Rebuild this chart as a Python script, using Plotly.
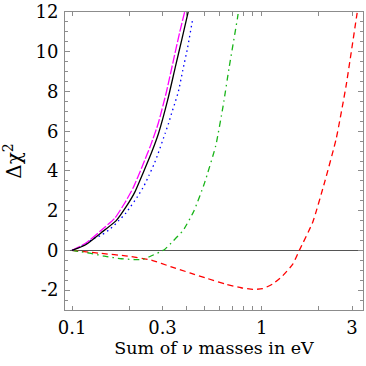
import numpy as np
import plotly.graph_objects as go

# curves (sum of neutrino masses in eV, delta chi^2)
black_x = [0.1, 0.1186, 0.142, 0.171, 0.193, 0.214, 0.237, 0.262, 0.286, 0.32, 0.35, 0.38, 0.412]
black_y = [0.0, 0.3, 0.88, 1.5, 2.2, 2.92, 3.9, 4.9, 5.9, 7.6, 9.2, 10.65, 12.1]

magenta_x = [0.1, 0.118, 0.14, 0.168, 0.19, 0.21, 0.235, 0.26, 0.285, 0.315, 0.345, 0.37, 0.395]
magenta_y = [0.0, 0.36, 0.95, 1.62, 2.4, 3.15, 4.25, 5.3, 6.4, 8.0, 9.7, 11.0, 12.1]

blue_x = [0.1, 0.114, 0.128, 0.143, 0.16, 0.176, 0.193, 0.224, 0.24, 0.254, 0.271, 0.284, 0.31,
          0.323, 0.335, 0.351, 0.364, 0.384, 0.405, 0.416, 0.432]
blue_y = [0.0, 0.25, 0.56, 0.77, 1.1, 1.49, 1.9, 2.78, 3.26, 3.76, 4.35, 4.86, 5.9,
          6.4, 6.9, 7.5, 8.0, 9.08, 10.1, 10.72, 11.6]

green_x = [0.1, 0.112, 0.126, 0.148, 0.182, 0.214, 0.235, 0.256, 0.29, 0.308, 0.341, 0.385,
           0.44, 0.5, 0.573, 0.627, 0.675, 0.746, 0.756]
green_y = [0.0, -0.07, -0.15, -0.29, -0.42, -0.46, -0.46, -0.32, -0.08, 0.05, 0.47, 1.0,
           2.0, 3.4, 5.28, 7.3, 9.25, 11.7, 12.1]

red_x = [0.1, 0.142, 0.197, 0.262, 0.334, 0.418, 0.52, 0.647, 0.78, 0.9, 1.01, 1.14, 1.29,
         1.46, 1.58, 1.86, 2.15, 2.47, 2.79, 3.16, 3.22]
red_y = [0.0, -0.15, -0.29, -0.49, -0.83, -1.13, -1.42, -1.7, -1.88, -1.96, -1.93, -1.7, -1.28,
         -0.69, 0.0, 1.42, 3.44, 5.6, 8.3, 11.7, 12.2]

x_tickvals = [0.1, 0.2, 0.3, 0.4, 0.5, 0.6, 0.7, 0.8, 0.9, 1, 2, 3]
x_ticktext = ["0.1", "", "0.3", "", "", "", "", "", "", "1", "", "3"]
y_tickvals = [-2, 0, 2, 4, 6, 8, 10, 12]
y_ticktext = ["-2", "0", "2", "4", "6", "8", "10", "12"]

# DejaVu Serif is the only serif face the renderer actually picks up
font = "DejaVu Serif"
frame = "#8c8c8c"

fig = go.Figure()
curves = [
    (red_x, red_y, "#ff0000", "6px,4px"),
    (green_x, green_y, "#18b418", "6px,4px,1.5px,4px"),
    (blue_x, blue_y, "#0000ff", "1.5px,3.5px"),
    (magenta_x, magenta_y, "#ff00ff", "9px,2px"),
    (black_x, black_y, "#000000", "solid"),
]
for xs, ys, color, dash in curves:
    fig.add_trace(
        go.Scatter(
            x=xs, y=ys, mode="lines",
            line=dict(color=color, width=1.3, dash=dash, shape="spline", smoothing=0.5),
            showlegend=False, hoverinfo="skip",
        )
    )

fig.update_layout(
    width=366,
    height=366,
    margin=dict(l=65, r=3, t=12, b=56),
    paper_bgcolor="white",
    plot_bgcolor="white",
    font=dict(family=font, size=18, color="black"),
)
fig.update_xaxes(
    type="log",
    range=[np.log10(0.0918), np.log10(3.425)],
    tickvals=x_tickvals,
    ticktext=x_ticktext,
    tickfont=dict(size=18),
    ticks="inside",
    ticklen=4,
    tickcolor=frame,
    ticklabelstandoff=1,
    ticklabeloverflow="allow",
    showline=True,
    linecolor=frame,
    linewidth=1,
    mirror="allticks",
    showgrid=False,
    zeroline=False,
    automargin=False,
    title=dict(text="Sum of ν masses in eV", standoff=4, font=dict(size=17.5)),
)
fig.update_yaxes(
    range=[-3, 12.001],
    tickvals=y_tickvals,
    ticktext=y_ticktext,
    tickfont=dict(size=18),
    ticks="inside",
    ticklen=5,
    tickcolor=frame,
    ticklabelstandoff=2,
    ticklabeloverflow="allow",
    minor=dict(dtick=0.5, ticks="inside", ticklen=3, tickcolor=frame, showgrid=False),
    showline=True,
    linecolor=frame,
    linewidth=1,
    mirror="allticks",
    showgrid=False,
    zeroline=True,
    zerolinecolor="#555555",
    zerolinewidth=1,
    automargin=False,
    title=dict(text="Δχ<sup>2</sup>", standoff=13, font=dict(size=20)),
)

# drop the default page margin so the figure sits at the window corner
fig.write_html(
    "out.html",
    config={"displayModeBar": False},
    post_script="document.body.style.margin = '0';",
)
